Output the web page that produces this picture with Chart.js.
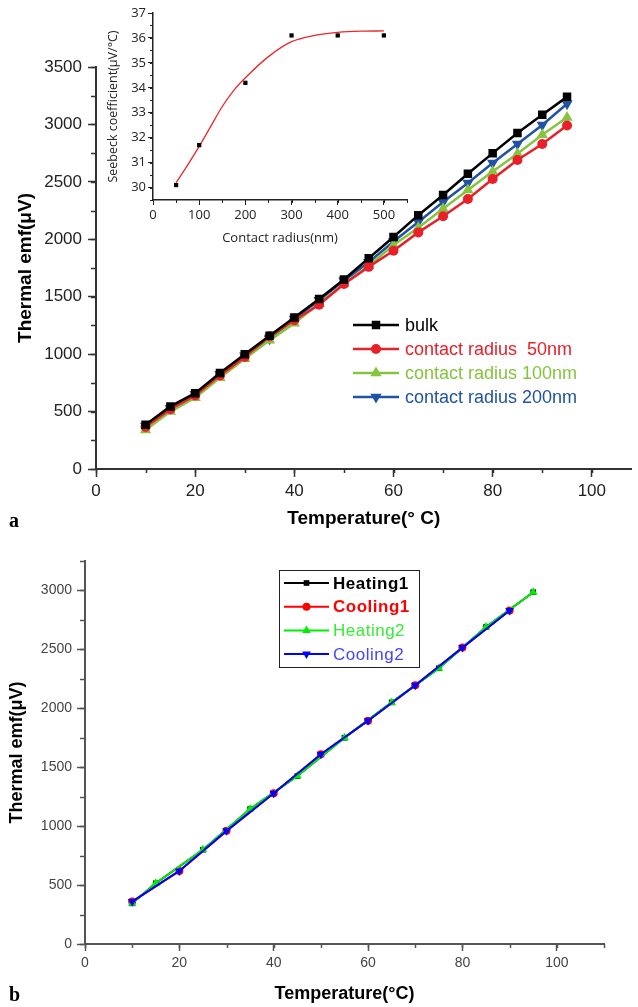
<!DOCTYPE html>
<html>
<head>
<meta charset="utf-8">
<script src="https://cdn.jsdelivr.net/npm/chart.js@4.4.1/dist/chart.umd.min.js"></script>
<style>
  body { margin: 0; background: #fff; }
  #wrap { position: relative; width: 638px; height: 1007px; overflow: hidden; }
  canvas { position: absolute; }
  .tag { position: absolute; font: bold 20px "Liberation Serif", serif; line-height: 24px; }
</style>
</head>
<body>
<div id="wrap">
  <canvas id="chartA" width="638" height="540" style="left:0;top:0"></canvas>
  <canvas id="chartB" width="638" height="472" style="left:0;top:535px"></canvas>
  <canvas id="inset" width="320" height="250" style="left:100px;top:0"></canvas>
  <div class="tag" style="left:9px;top:508px">a</div>
  <div class="tag" style="left:9px;top:982px">b</div>
</div>
<script>
// panel a - thermal emf vs temperature
const tempA = [10, 15, 20, 25, 30, 35, 40, 45, 50, 55, 60, 65, 70, 75, 80, 85, 90, 95];
const bulk  = [385, 545, 660, 835, 1000, 1160, 1320, 1480, 1650, 1835, 2020, 2210, 2385, 2570, 2750, 2925, 3085, 3240];
const r50   = [365, 520, 640, 815, 975, 1155, 1295, 1430, 1610, 1760, 1900, 2060, 2200, 2350, 2525, 2690, 2830, 2990];
const r100  = [340, 500, 620, 795, 960, 1120, 1270, 1440, 1610, 1770, 1950, 2100, 2265, 2430, 2590, 2745, 2910, 3060];
const r200  = [375, 530, 650, 825, 985, 1135, 1305, 1470, 1640, 1800, 1980, 2150, 2325, 2490, 2665, 2830, 2995, 3180];
const ticksAX = [0, 20, 40, 60, 80, 100];
const ticksAY = [0, 500, 1000, 1500, 2000, 2500, 3000, 3500];

// inset - seebeck coefficient vs contact radius
const radius  = [50, 100, 200, 300, 400, 500];
const seebeck = [30.1, 31.7, 34.2, 36.1, 36.1, 36.1];
const fitRadius  = [50, 75, 100, 125, 150, 175, 200, 250, 300, 350, 400, 450, 500];
const fitSeebeck = [30.2, 30.9, 31.65, 32.45, 33.25, 33.9, 34.4, 35.25, 35.85, 36.1, 36.22, 36.27, 36.28];
const insetTicksX = [0, 100, 200, 300, 400, 500];
const insetTicksY = [30, 31, 32, 33, 34, 35, 36, 37];

// panel b - heating / cooling cycles
const tempHeat = [10, 15, 25, 35, 45, 55, 65, 75, 85, 95];
const heat1 = [345, 515, 800, 1145, 1425, 1750, 2050, 2340, 2690, 2985];
const heat2 = [345, 515, 800, 1145, 1425, 1750, 2050, 2340, 2690, 2985];
const tempCool = [10, 20, 30, 40, 50, 60, 70, 80, 90];
const cool1 = [360, 620, 960, 1280, 1610, 1895, 2195, 2515, 2830];
const cool2 = [360, 620, 960, 1280, 1610, 1895, 2195, 2515, 2830];
const ticksBX = [0, 20, 40, 60, 80, 100];
const ticksBY = [0, 500, 1000, 1500, 2000, 2500, 3000];

Chart.defaults.font.family = '"Liberation Sans", Arial, sans-serif';

function pts(xs, ys) {
  return xs.map((x, i) => ({x: x, y: ys[i]}));
}

function fixedTicks(vals) {
  return s => { s.ticks = vals.map(v => ({value: v})); };
}

function series(label, xs, ys, color, style, r, lw, rot) {
  return {
    label: label, data: pts(xs, ys),
    borderColor: color, backgroundColor: color,
    borderWidth: lw, pointStyle: style, pointRadius: r,
    pointRotation: rot || 0, pointBorderWidth: 0, tension: 0
  };
}

// short minor ticks, drawn from the scales
const minorTicks = {
  id: 'minorTicks',
  afterDraw(chart, args, o) {
    if (!o.axes) return;
    const ctx = chart.ctx;
    ctx.save();
    ctx.strokeStyle = o.color;
    ctx.lineWidth = o.width;
    o.axes.forEach(a => {
      const s = chart.scales[a.id];
      ctx.beginPath();
      for (let v = s.min; v <= s.max + 1e-6; v += a.step) {
        const p = Math.round(s.getPixelForValue(v)) + 0.5;
        if (s.isHorizontal()) {
          ctx.moveTo(p, s.top); ctx.lineTo(p, s.top + a.len);
        } else {
          ctx.moveTo(s.right, p); ctx.lineTo(s.right - a.len, p);
        }
      }
      ctx.stroke();
    });
    ctx.restore();
  }
};

// line-marker-line legend
const lineLegend = {
  id: 'lineLegend',
  afterDraw(chart, args, o) {
    if (!o.x0) return;
    const ctx = chart.ctx;
    ctx.save();
    if (o.box) {
      ctx.strokeStyle = '#222';
      ctx.lineWidth = 1;
      ctx.strokeRect(o.box[0], o.box[1], o.box[2], o.box[3]);
    }
    chart.data.datasets.forEach((ds, i) => {
      const y = o.y + i * o.rowH;
      ctx.strokeStyle = ds.borderColor;
      ctx.lineWidth = o.lineW;
      ctx.beginPath();
      ctx.moveTo(o.x0, y);
      ctx.lineTo(o.x1, y);
      ctx.stroke();
      ctx.fillStyle = ds.backgroundColor;
      Chart.helpers.drawPoint(ctx, {
        pointStyle: ds.pointStyle, rotation: ds.pointRotation,
        radius: ds.pointRadius, borderWidth: 0
      }, (o.x0 + o.x1) / 2, y);
      ctx.font = o.fonts[i];
      ctx.fillStyle = o.colors[i];
      ctx.textBaseline = 'middle';
      if (o.spacing) ctx.letterSpacing = o.spacing;
      ctx.fillText(ds.label, o.tx, y + 1);
    });
    ctx.restore();
  }
};

new Chart(document.getElementById('chartA'), {
  type: 'line',
  data: {
    datasets: [
      series('bulk', tempA, bulk, '#000000', 'rect', 6, 2.5),
      series('contact radius  50nm', tempA, r50, '#e8202a', 'circle', 5, 2.5),
      series('contact radius 100nm', tempA, r100, '#86c440', 'triangle', 6.5, 2.5),
      series('contact radius 200nm', tempA, r200, '#2152a3', 'triangle', 6.5, 2.5, 180)
    ]
  },
  options: {
    responsive: false, animation: false,
    layout: {padding: {top: 67, right: 0, bottom: 0, left: 0}},
    plugins: {
      legend: {display: false}, tooltip: {enabled: false},
      minorTicks: {color: '#333', width: 1.5, axes: [{id: 'x', step: 10, len: 4}, {id: 'y', step: 250, len: 5}]},
      lineLegend: {
        x0: 353, x1: 399, tx: 405, y: 325, rowH: 24, lineW: 2.5,
        fonts: ['18px "Liberation Sans"', '18px "Liberation Sans"', '18px "Liberation Sans"', '18px "Liberation Sans"'],
        colors: ['#000000', '#e8202a', '#86c440', '#2152a3']
      }
    },
    scales: {
      x: {
        type: 'linear', min: 0, max: 108,
        afterBuildTicks: fixedTicks(ticksAX),
        afterFit: s => { s.height = 71; },
        ticks: {autoSkip: false, callback: v => String(v), color: '#222', font: {size: 17}, padding: 4, maxRotation: 0},
        grid: {drawOnChartArea: false, tickLength: 8, tickColor: '#333', tickWidth: 1.5},
        border: {color: '#333', width: 2},
        title: {display: true, text: 'Temperature(° C)', color: '#000', font: {size: 19, weight: 'bold'}, padding: {top: 0, bottom: 10}}
      },
      y: {
        min: 0, max: 3500,
        afterBuildTicks: fixedTicks(ticksAY),
        afterFit: s => { s.width = 96; },
        ticks: {autoSkip: false, callback: v => String(v), color: '#222', font: {size: 17}, padding: 6},
        grid: {drawOnChartArea: false, tickLength: 8, tickColor: '#333', tickWidth: 1.5},
        border: {color: '#333', width: 2},
        title: {display: true, text: 'Thermal emf(μV)', color: '#000', font: {size: 19, weight: 'bold'}, padding: {top: 14, bottom: 0}}
      }
    }
  },
  plugins: [minorTicks, lineLegend]
});

new Chart(document.getElementById('inset'), {
  type: 'scatter',
  data: {
    datasets: [
      {
        label: 'seebeck', data: pts(radius, seebeck),
        backgroundColor: '#000', borderColor: '#000',
        pointStyle: 'rect', pointRadius: 3, pointBorderWidth: 0
      },
      {
        type: 'line', label: 'fit', data: pts(fitRadius, fitSeebeck),
        borderColor: '#e8282a', borderWidth: 1.3, pointRadius: 0,
        cubicInterpolationMode: 'monotone'
      }
    ]
  },
  options: {
    responsive: false, animation: false,
    layout: {padding: {top: 13, right: 13, bottom: 0, left: 0}},
    plugins: {
      legend: {display: false}, tooltip: {enabled: false},
      minorTicks: {color: '#222', width: 1, axes: [{id: 'x', step: 50, len: 3}, {id: 'y', step: 0.5, len: 3}]}
    },
    scales: {
      x: {
        type: 'linear', min: 0, max: 550,
        afterBuildTicks: fixedTicks(insetTicksX),
        afterFit: s => { s.height = 50; },
        ticks: {autoSkip: false, callback: v => String(v), color: '#222', font: {family: '"Open Sans"', size: 13}, padding: 2, maxRotation: 0},
        grid: {drawOnChartArea: false, tickLength: 5, tickColor: '#222', tickWidth: 1},
        border: {color: '#222', width: 1.5},
        title: {display: true, text: 'Contact radius(nm)', color: '#222', font: {family: '"Open Sans"', size: 13}, padding: {top: 0, bottom: 4}}
      },
      y: {
        min: 29.5, max: 37,
        afterBuildTicks: fixedTicks(insetTicksY),
        afterFit: s => { s.width = 53; },
        ticks: {autoSkip: false, callback: v => String(v), color: '#222', font: {family: '"Open Sans"', size: 13}, padding: 2},
        grid: {drawOnChartArea: false, tickLength: 5, tickColor: '#222', tickWidth: 1},
        border: {color: '#222', width: 1.5},
        title: {display: true, text: 'Seebeck coefficient(μV/°C)', color: '#222', font: {family: '"Open Sans"', size: 12.5}, padding: {top: 6, bottom: 0}}
      }
    }
  },
  plugins: [minorTicks]
});

const setB = [
  series('Heating1', tempHeat, heat1, '#000000', 'rect', 4, 2),
  series('Cooling1', tempCool, cool1, '#ff0000', 'circle', 4, 2),
  series('Heating2', tempHeat, heat2, '#00ee00', 'triangle', 5, 2),
  series('Cooling2', tempCool, cool2, '#0000ff', 'triangle', 5, 2, 180)
];
setB.forEach((d, i) => { d.order = 4 - i; });

new Chart(document.getElementById('chartB'), {
  type: 'line',
  data: {datasets: setB},
  options: {
    responsive: false, animation: false,
    layout: {padding: {top: 26, right: 34, bottom: 0, left: 0}},
    plugins: {
      legend: {display: false}, tooltip: {enabled: false},
      minorTicks: {color: '#555', width: 1.5, axes: [{id: 'x', step: 10, len: 4}, {id: 'y', step: 250, len: 5}]},
      lineLegend: {
        x0: 284, x1: 329, tx: 333, y: 48, rowH: 23.7, lineW: 2, spacing: '0.5px',
        box: [279.5, 35.5, 140, 97],
        fonts: ['bold 17px "Liberation Sans"', 'bold 17px "Liberation Sans"', '17px "Liberation Sans"', '17px "Liberation Sans"'],
        colors: ['#000000', '#ff0000', '#33ee33', '#4444ff']
      }
    },
    scales: {
      x: {
        type: 'linear', min: 0, max: 110,
        afterBuildTicks: fixedTicks(ticksBX),
        afterFit: s => { s.height = 63; },
        ticks: {autoSkip: false, callback: v => String(v), color: '#444', font: {size: 14}, padding: 4, maxRotation: 0},
        grid: {drawOnChartArea: false, tickLength: 7, tickColor: '#555', tickWidth: 1.5},
        border: {color: '#555', width: 2},
        title: {display: true, text: 'Temperature(°C)', color: '#000', font: {size: 18, weight: 'bold'}, padding: {top: 0, bottom: 2}}
      },
      y: {
        min: 0, max: 3250,
        afterBuildTicks: fixedTicks(ticksBY),
        afterFit: s => { s.width = 85; },
        ticks: {autoSkip: false, callback: v => String(v), color: '#444', font: {size: 14}, padding: 5},
        grid: {drawOnChartArea: false, tickLength: 8, tickColor: '#555', tickWidth: 1.5},
        border: {color: '#555', width: 2},
        title: {display: true, text: 'Thermal emf(μV)', color: '#000', font: {size: 18, weight: 'bold'}, padding: {top: 6, bottom: 0}}
      }
    }
  },
  plugins: [minorTicks, lineLegend]
});
</script>
</body>
</html>
